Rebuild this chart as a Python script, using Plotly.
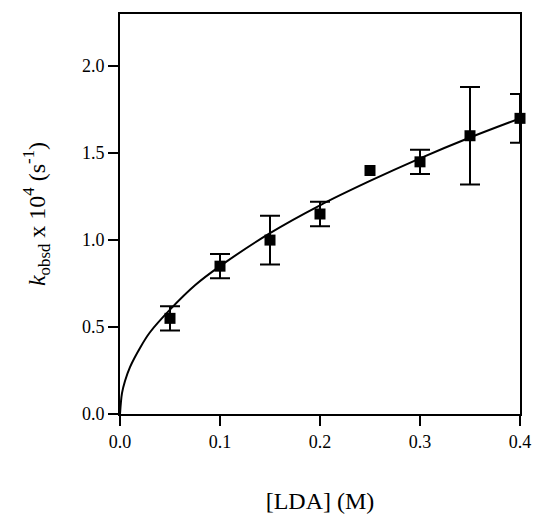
import plotly.graph_objects as go

# measured points
lda = [0.05, 0.10, 0.15, 0.20, 0.25, 0.30, 0.35, 0.40]
kobs = [0.55, 0.85, 1.00, 1.15, 1.40, 1.45, 1.60, 1.70]
err = [0.07, 0.07, 0.14, 0.07, None, 0.07, 0.28, 0.14]

# fitted curve
fit_x = [0.0, 0.002, 0.005, 0.01, 0.02, 0.03, 0.05, 0.075, 0.10, 0.15, 0.20, 0.25, 0.30, 0.35, 0.40]
fit_y = [0.0, 0.12, 0.19, 0.27, 0.38, 0.47, 0.60, 0.74, 0.85, 1.04, 1.20, 1.34, 1.47, 1.59, 1.70]

x_ticks = [0, 0.1, 0.2, 0.3, 0.4]
x_labels = ["0.0", "0.1", "0.2", "0.3", "0.4"]
y_ticks = [0, 0.5, 1.0, 1.5, 2.0]
y_labels = ["0.0", "0.5", "1.0", "1.5", "2.0"]

FONT = "Liberation Serif"

# points with and without an error bar
with_err = [i for i, e in enumerate(err) if e is not None]
no_err = [i for i, e in enumerate(err) if e is None]

fig = go.Figure()
fig.add_trace(go.Scatter(x=fit_x, y=fit_y, mode="lines", line=dict(color="black", width=2, shape="spline"),
                         showlegend=False, cliponaxis=False))
fig.add_trace(go.Scatter(x=[lda[i] for i in with_err], y=[kobs[i] for i in with_err], mode="markers",
                         marker=dict(symbol="square", size=11, color="black"),
                         error_y=dict(type="data", array=[err[i] for i in with_err],
                                      color="black", thickness=2, width=10),
                         showlegend=False, cliponaxis=False))
fig.add_trace(go.Scatter(x=[lda[i] for i in no_err], y=[kobs[i] for i in no_err], mode="markers",
                         marker=dict(symbol="square", size=11, color="black"),
                         showlegend=False, cliponaxis=False))

fig.update_xaxes(range=[0, 0.4], tickmode="array", tickvals=x_ticks, ticktext=x_labels,
                 tickfont=dict(family=FONT, size=18, color="black"), automargin=False,
                 showline=True, linecolor="black", linewidth=2, mirror=True,
                 ticks="outside", ticklen=10, tickwidth=2, tickcolor="black",
                 showgrid=False, zeroline=False,
                 title=dict(text="[LDA] (M)", font=dict(family=FONT, size=24, color="black"), standoff=42))
fig.update_yaxes(range=[0, 2.3], tickmode="array", tickvals=y_ticks, ticktext=y_labels,
                 tickfont=dict(family=FONT, size=18, color="black"), automargin=False,
                 showline=True, linecolor="black", linewidth=2, mirror=True,
                 ticks="outside", ticklen=10, tickwidth=2, tickcolor="black",
                 showgrid=False, zeroline=False,
                 title=dict(text="<i>k</i><sub>obsd</sub> x 10<sup>4</sup> (s<sup>-1</sup>)",
                            font=dict(family=FONT, size=24, color="black"), standoff=30))

fig.update_layout(width=535, height=514, margin=dict(l=120, r=15, t=14, b=100),
                  font=dict(family=FONT, size=18, color="black"),
                  plot_bgcolor="white", paper_bgcolor="white")

# no page margin or scrollbars, no modebar
fig.write_html("out.html", config={"displayModeBar": False, "responsive": False},
               post_script="document.body.style.margin='0';document.body.style.overflow='hidden';"
                           "document.documentElement.style.overflow='hidden';")
